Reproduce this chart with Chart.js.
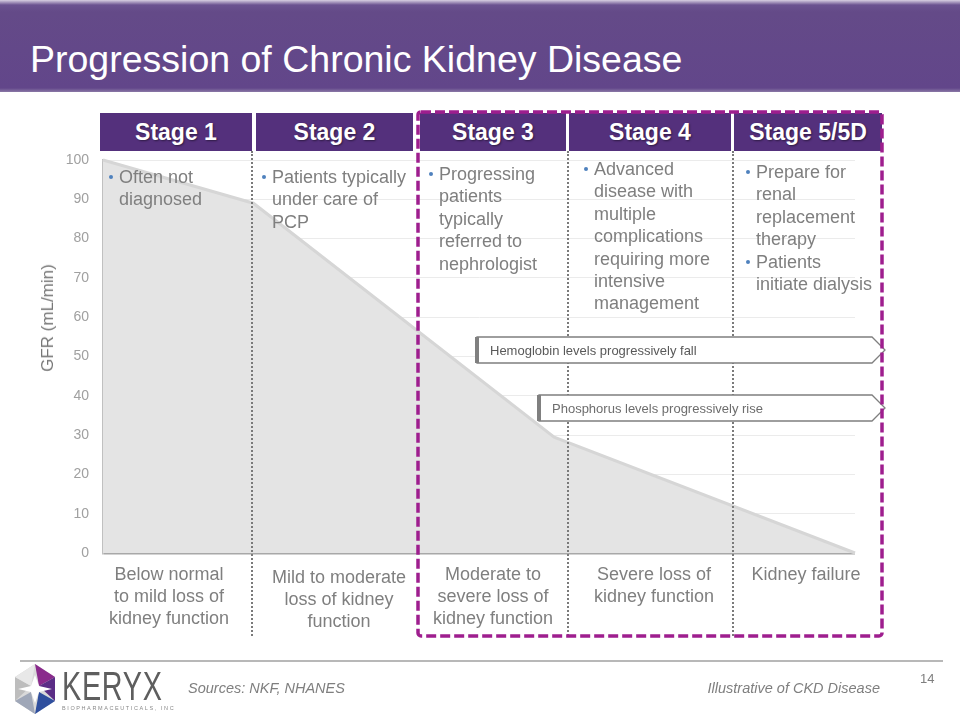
<!DOCTYPE html>
<html>
<head>
<meta charset="utf-8">
<script src="https://cdn.jsdelivr.net/npm/chart.js@4.4.1/dist/chart.umd.min.js"></script>
<style>
body { margin: 0; background: #fff; font-family: "Liberation Sans", Arial, sans-serif; }
#slide { position: relative; width: 960px; height: 720px; overflow: hidden; }
#gfrChart { position: absolute; left: 0; top: 0; }
.abs { position: absolute; }
#header { left: 0; top: 0; width: 960px; height: 92px;
  background: linear-gradient(#d8cfe2 0px, #6b5290 5px, #644a88 12px, #62468a 88px, #8a78a6 92px); }
#title { left: 30px; top: 38px; color: #fff; font-size: 37.5px; white-space: nowrap; }
.stage { top: 113px; height: 38px; background: #54307c; color: #fff; font-weight: bold; font-size: 23px;
  line-height: 38px; text-align: center; text-shadow: 1px 1px 2px rgba(0,0,0,0.45); }
.notes { font-size: 18px; line-height: 22.4px; color: #7f7f7f; white-space: nowrap; }
.notes div { position: relative; }
.notes .b::before { content: ""; position: absolute; left: -10px; top: 9px; width: 4px; height: 4px;
  border-radius: 2px; background: #4f81bd; }
.desc { font-size: 18px; line-height: 22px; color: #7f7f7f; text-align: center; white-space: nowrap; }
.dots { top: 151px; height: 485px; border-left: 2px dotted #7a7a7a; }
#yTitle { left: 48px; top: 318px; transform: translate(-50%, -50%) rotate(-90deg); color: #777;
  font-size: 17px; white-space: nowrap; }
#footLine { left: 20px; top: 660px; width: 923px; height: 2px; background: #b8b8b8; }
.foot { font-size: 14.5px; font-style: italic; color: #7f7f7f; white-space: nowrap; }
</style>
</head>
<body>
<div id="slide">
  <canvas id="gfrChart" width="960" height="720"></canvas>
  <div id="header" class="abs"></div>
  <div id="title" class="abs">Progression of Chronic Kidney Disease</div>
  <div id="yTitle" class="abs">GFR (mL/min)</div>
  <div id="overlay"></div>
  <svg class="abs" style="left:0;top:0" width="960" height="720">
    <g font-family="Liberation Sans, Arial, sans-serif" font-size="13">
      <polygon points="477,337 872,337 885,350 872,363 477,363" fill="#fff" stroke="#7f7f7f" stroke-width="1.3"/>
      <rect x="475" y="337" width="4" height="26" fill="#808080"/>
      <text x="490" y="355" fill="#595959">Hemoglobin levels progressively fall</text>
      <polygon points="539,395 872,395 885,408 872,421 539,421" fill="#fff" stroke="#7f7f7f" stroke-width="1.3"/>
      <rect x="537" y="395" width="4" height="26" fill="#808080"/>
      <text x="552" y="413" fill="#6d6d6d">Phosphorus levels progressively rise</text>
    </g>
    <rect x="418" y="112" width="464" height="524" rx="3" fill="none" stroke="#9e1e8e" stroke-width="3.5" stroke-dasharray="10 4"/>
    <g transform="translate(35,689)">
      <polygon points="0,-25 20,-12 20,12 0,25 -20,12 -20,-12" fill="#d9d9d9"/>
      <polygon points="0,-25 20,-12 4,-3" fill="#8a2a8c"/>
      <polygon points="20,-12 20,12 4,-3" fill="#5b2d86"/>
      <polygon points="20,12 0,25 4,3" fill="#2f4f9e"/>
      <polygon points="0,25 -20,12 -4,3" fill="#9fa7b8"/>
      <polygon points="-20,12 -20,-12 -4,-3" fill="#bdbdbd"/>
      <polygon points="-20,-12 0,-25 -4,-3" fill="#e8e8e8"/>
      <polygon points="0,-14 4,-3 17,0 4,3 0,14 -4,3 -17,0 -4,-3" fill="#ffffff"/>
    </g>
  </svg>
  <div id="footLine" class="abs"></div>
  <div class="abs" style="left:62px;top:664px;font-size:40px;color:#5e5e5e;transform:scaleX(0.72);transform-origin:left top;letter-spacing:1px">KERYX</div>
  <div class="abs" style="left:62px;top:705px;font-size:5.5px;color:#8a8a8a;letter-spacing:1.6px">BIOPHARMACEUTICALS, INC</div>
  <div class="abs foot" style="left:188px;top:680px">Sources: NKF, NHANES</div>
  <div class="abs foot" style="right:80px;top:680px">Illustrative of CKD Disease</div>
  <div class="abs" style="left:920px;top:671px;font-size:13px;color:#7f7f7f">14</div>
</div>
<script>
// GFR curve: position along the stages (0 = start of stage 1, 5 = end of stage 5)
var stagePos = [0, 1, 3, 5];
var gfrValues = [100, 89, 29.5, 0];

// y axis
var yMin = 0;
var yMax = 100;
var yStep = 10;

var stageNames = ['Stage 1', 'Stage 2', 'Stage 3', 'Stage 4', 'Stage 5/5D'];
var stageNotes = [
    [['Often not', 'diagnosed']],
    [['Patients typically', 'under care of', 'PCP']],
    [['Progressing', 'patients', 'typically', 'referred to', 'nephrologist']],
    [['Advanced', 'disease with', 'multiple', 'complications', 'requiring more', 'intensive', 'management']],
    [['Prepare for', 'renal', 'replacement', 'therapy'], ['Patients', 'initiate dialysis']]
];
var stageDesc = [
    ['Below normal', 'to mild loss of', 'kidney function'],
    ['Mild to moderate', 'loss of kidney', 'function'],
    ['Moderate to', 'severe loss of', 'kidney function'],
    ['Severe loss of', 'kidney function'],
    ['Kidney failure']
];

// slide layout for the text columns
var boxLeft = [100, 256, 420, 569, 734];
var boxRight = [252, 413, 566, 731, 882];
var noteLeft = [119, 272, 439, 594, 756];
var noteTop = [166, 166, 163, 158, 161];
var descCenter = [169, 339, 493, 654, 806];
var descTop = [563, 566, 563, 563, 563];
var dividers = [252, 568, 733];

var overlay = document.getElementById('overlay');
for (var i = 0; i < stageNames.length; i++) {
    var box = document.createElement('div');
    box.className = 'abs stage';
    box.style.left = boxLeft[i] + 'px';
    box.style.width = (boxRight[i] - boxLeft[i]) + 'px';
    box.textContent = stageNames[i];
    overlay.appendChild(box);

    var notes = document.createElement('div');
    notes.className = 'abs notes';
    notes.style.left = noteLeft[i] + 'px';
    notes.style.top = noteTop[i] + 'px';
    stageNotes[i].forEach(function (bullet) {
        bullet.forEach(function (line, k) {
            var d = document.createElement('div');
            if (k == 0) d.className = 'b';
            d.textContent = line;
            notes.appendChild(d);
        });
    });
    overlay.appendChild(notes);

    var desc = document.createElement('div');
    desc.className = 'abs desc';
    desc.style.left = (descCenter[i] - 100) + 'px';
    desc.style.width = '200px';
    desc.style.top = descTop[i] + 'px';
    desc.innerHTML = stageDesc[i].join('<br>');
    overlay.appendChild(desc);
}
dividers.forEach(function (x) {
    var d = document.createElement('div');
    d.className = 'abs dots';
    d.style.left = (x - 1) + 'px';
    overlay.appendChild(d);
});

var points = [];
for (var j = 0; j < stagePos.length; j++) {
    points.push({x: stagePos[j], y: gfrValues[j]});
}

var ctx = document.getElementById('gfrChart').getContext('2d');
var myChart = new Chart(ctx, {
    type: 'line',
    data: {
        datasets: [{
            data: points,
            fill: 'origin',
            backgroundColor: '#e4e4e4',
            borderColor: '#d6d6d6',
            borderWidth: 3,
            pointRadius: 0,
            clip: 4
        }, {
            data: points,
            fill: false,
            borderColor: '#ffffff',
            borderWidth: 1.8,
            pointRadius: 0,
            clip: 4
        }]
    },
    options: {
        responsive: false,
        animation: false,
        layout: {padding: {top: 160, bottom: 167, left: 0, right: 105}},
        plugins: {legend: {display: false}, tooltip: {enabled: false}},
        scales: {
            x: {type: 'linear', min: 0, max: 5, display: false},
            y: {
                min: yMin,
                max: yMax,
                ticks: {
                    stepSize: yStep,
                    padding: 14,
                    color: '#a0a0a0',
                    font: {family: 'Liberation Sans', size: 14}
                },
                grid: {
                    drawTicks: false,
                    color: function (c) { return c.tick && c.tick.value === 0 ? '#a8a8a8' : '#ebebeb'; },
                    lineWidth: function (c) { return c.tick && c.tick.value === 0 ? 2.5 : 1; }
                },
                border: {color: '#c0c0c0', width: 2},
                afterFit: function (scale) { scale.width = 103; }
            }
        }
    }
});
</script>
</body>
</html>
